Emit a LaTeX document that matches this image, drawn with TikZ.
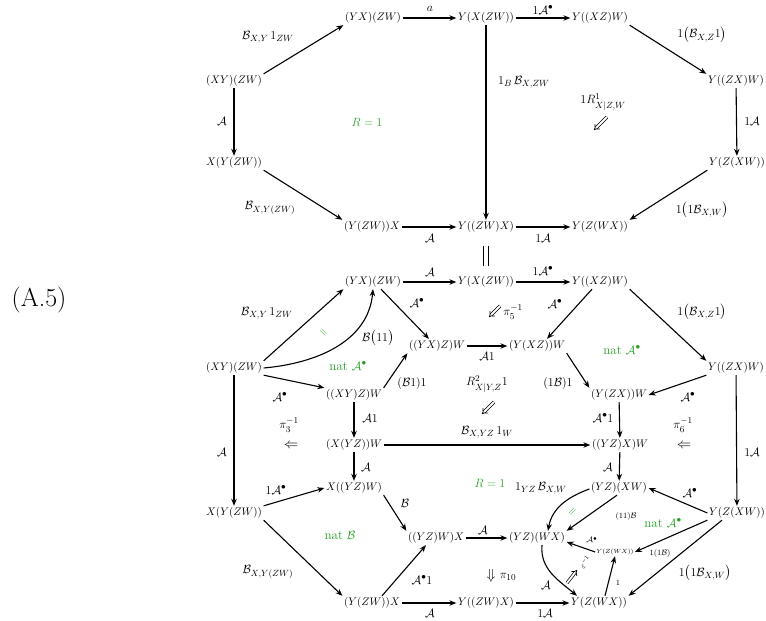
\documentclass[tikz,border=0pt]{standalone}
\usepackage{amsmath,amssymb}
\usetikzlibrary{arrows.meta}
\definecolor{grn}{RGB}{40,160,40}
\newcommand{\cA}{\mathcal{A}}
\newcommand{\cB}{\mathcal{B}}
\begin{document}
\begin{tikzpicture}[x=1pt,y=-1pt,
  obj/.style={font=\fontsize{11}{13}\selectfont, inner sep=1.5pt},
  tobj/.style={font=\fontsize{6}{7}\selectfont, inner sep=1pt},
  lab/.style={font=\fontsize{13}{15}\selectfont, inner sep=0pt},
  slab/.style={font=\fontsize{8.5}{10}\selectfont, inner sep=0pt},
  glab/.style={font=\fontsize{13}{15}\selectfont, text=grn, inner sep=0pt},
  dsym/.style={font=\fontsize{15}{17}\selectfont, inner sep=0pt},
  ar/.style={-{Stealth[length=7pt,width=5.5pt]}, line width=1.1pt},
  tc/.style={double, double distance=1.8pt, line width=0.7pt, -{Implies}},
  eqs/.style={double, double distance=4pt, line width=1.4pt}]
\useasboundingbox (0,0) rectangle (766,621);

\node[font=\fontsize{26}{30}\selectfont] (eqno) at (39,300) {(A.5)};

% ---------- top diagram ----------
\node[obj] (t1) at (373,18) {$(YX)(ZW)$};
\node[obj] (t2) at (486,18) {$Y(X(ZW))$};
\node[obj] (t3) at (600,18) {$Y((XZ)W)$};
\node[obj] (t4) at (234,81) {$(XY)(ZW)$};
\node[obj] (t5) at (736,81) {$Y((ZX)W)$};
\node[obj] (t6) at (234,163) {$X(Y(ZW))$};
\node[obj] (t7) at (737,163) {$Y(Z(XW))$};
\node[obj] (t8) at (372,227) {$(Y(ZW))X$};
\node[obj] (t9) at (486,227) {$Y((ZW)X)$};
\node[obj] (t10) at (600,227) {$Y(Z(WX))$};

\draw[ar] (t4.north east) -- (t1.south west);
\draw[ar] (t1) -- (t2);
\draw[ar] (t2) -- (t3);
\draw[ar] (t3.south east) -- (t5.north west);
\draw[ar] (t4) -- (t6);
\draw[ar] (t2) -- (t9);
\draw[ar] (t5) -- (t7);
\draw[ar] (t6.south east) -- (t8.north west);
\draw[ar] (t8) -- (t9);
\draw[ar] (t9) -- (t10);
\draw[ar] (t7.south west) -- (t10.north east);

\node[lab] (lt1) at (268,37) {$\cB_{X,Y}\,1_{ZW}$};
\node[lab] (lt2) at (430,9) {$a$};
\node[lab] (lt3) at (543,10) {$1\cA^{\bullet}$};
\node[lab] (lt4) at (702,35) {$1\big(\cB_{X,Z}1\big)$};
\node[lab] (lt5) at (222,121) {$\cA$};
\node[lab] (lt6) at (524,82) {$1_B\,\cB_{X,ZW}$};
\node[lab] (lt7) at (752,121) {$1\cA$};
\node[lab] (lt8) at (270,208) {$\cB_{X,Y(ZW)}$};
\node[lab] (lt9) at (430,238) {$\cA$};
\node[lab] (lt10) at (543,238) {$1\cA$};
\node[lab] (lt11) at (702,210) {$1\big(1\cB_{X,W}\big)$};
\node[glab] (gt1) at (367,122) {$R=1$};
\node[lab] (lt12) at (603,102) {$1R^{1}_{X|Z,W}$};
\coordinate (d1a) at (607,117);
\coordinate (d1b) at (594,130);
\draw[tc] (d1a) -- (d1b);

% equality between the two diagrams
\coordinate (eqa) at (486,246);
\coordinate (eqb) at (486,266);
\draw[eqs] (eqa) -- (eqb);

% ---------- bottom diagram ----------
\node[obj] (b1) at (373,282) {$(YX)(ZW)$};
\node[obj] (b2) at (486,282) {$Y(X(ZW))$};
\node[obj] (b3) at (600,282) {$Y((XZ)W)$};
\node[obj] (b4) at (234,368) {$(XY)(ZW)$};
\node[obj] (b5) at (736,368) {$Y((ZX)W)$};
\node[obj] (b6) at (437,346) {$((YX)Z)W$};
\node[obj] (b7) at (537,346) {$(Y(XZ))W$};
\node[obj] (b8) at (354,395) {$((XY)Z)W$};
\node[obj] (b9) at (619,395) {$(Y(ZX))W$};
\node[obj] (b10) at (354,445) {$(X(YZ))W$};
\node[obj] (b11) at (620,445) {$((YZ)X)W$};
\node[obj] (b12) at (354,488) {$X((YZ)W)$};
\node[obj] (b13) at (619,488) {$(YZ)(XW)$};
\node[obj] (b14) at (234,513) {$X(Y(ZW))$};
\node[obj] (b15) at (737,513) {$Y(Z(XW))$};
\node[obj] (b16) at (436,538) {$((YZ)W)X$};
\node[obj] (b17) at (537,538) {$(YZ)(WX)$};
\node[tobj] (b18) at (615,552) {$Y(Z(WX))$};
\node[obj] (b19) at (372,603) {$(Y(ZW))X$};
\node[obj] (b20) at (486,603) {$Y((ZW)X)$};
\node[obj] (b21) at (599,603) {$Y(Z(WX))$};

\draw[ar] (b4.north east) -- (b1.south west);
\draw[ar] (b4.east) to[out=5,in=-95] (b1.south);
\draw[ar] (b4.south east) -- (b8.north west);
\draw[ar] (b8.north east) -- (b6.south west);
\draw[ar] (b4) -- (b14);
\draw[ar] ([xshift=8pt]b1.south) -- ([xshift=-8pt]b6.north);
\draw[ar] (b1) -- (b2);
\draw[ar] (b2) -- (b3);
\draw[ar] ([xshift=-8pt]b3.south) -- ([xshift=10pt]b7.north);
\draw[ar] (b6) -- (b7);
\draw[ar] (b3.south east) -- (b5.north west);
\draw[ar] (b7.south east) -- (b9.north west);
\draw[ar] (b5.south west) -- (b9.east);
\draw[ar] (b5) -- (b15);
\draw[ar] (b8) -- (b10);
\draw[ar] (b10) -- (b12);
\draw[ar] (b9) -- (b11);
\draw[ar] (b11) -- (b13);
\draw[ar] (b10) -- (b11);
\draw[ar] (b14.north east) -- (b12.west);
\draw[ar] (b12.south east) -- (b16.north west);
\draw[ar] (b14.south east) -- (b19.north west);
\draw[ar] ([xshift=10pt]b19.north) -- ([xshift=-10pt]b16.south);
\draw[ar] (b19) -- (b20);
\draw[ar] (b20) -- (b21);
\draw[ar] (b16) -- (b17);
\draw[ar] ([yshift=-1pt]b13.west) to[out=200,in=80] ([xshift=11pt]b17.north);
\draw[ar] ([xshift=-2pt]b13.south) -- (b17.north east);
\draw[ar] (b15.west) -- (b13.east);
\draw[ar] (b15.south west) -- (b18.east);
\draw[ar] ([xshift=-15pt]b15.south) -- (b21.north east);
\draw[ar] (b18.west) -- ([yshift=-4pt]b17.east);
\draw[ar] ([xshift=6pt]b21.north) -- (b18.south);
\draw[ar] ([xshift=5pt]b17.south) to[out=-95,in=140] ([xshift=-22pt]b21.north);

% labels bottom
\node[lab] (lb1) at (267,313) {$\cB_{X,Y}\,1_{ZW}$};
\node[lab] (lb2) at (378,338) {$\cB\big(11\big)$};
\node[glab, rotate=-45, font=\fontsize{11}{13}\selectfont] (gb1) at (323,333) {$=$};
\node[glab] (gb2) at (348,366) {nat $\cA^{\bullet}$};
\node[lab] (lb3) at (280,397) {$\cA^{\bullet}$};
\node[lab] (lb4) at (412,383) {$(\cB1)1$};
\node[lab] (lb5) at (222,452) {$\cA$};
\node[lab] (lb6) at (417,303) {$\cA^{\bullet}$};
\node[lab] (lb7) at (430,272) {$\cA$};
\node[lab] (lb8) at (543,271) {$1\cA^{\bullet}$};
\node[lab] (lb9) at (555,304) {$\cA^{\bullet}$};
\node[lab] (lb10) at (487,356) {$\cA1$};
\node[lab] (lb11) at (702,312) {$1\big(\cB_{X,Z}1\big)$};
\node[glab] (gb3) at (622,350) {nat $\cA^{\bullet}$};
\node[lab] (lb12) at (558,383) {$(1\cB)1$};
\node[lab] (lb13) at (688,397) {$\cA^{\bullet}$};
\node[lab] (lb14) at (752,452) {$1\cA$};
\node[lab] (lb15) at (370,418) {$\cA1$};
\node[lab] (lb16) at (366,467) {$\cA$};
\node[lab] (lb17) at (603,418) {$\cA^{\bullet}1$};
\node[lab] (lb18) at (608,467) {$\cA$};
\node[lab] (lb19) at (487,432) {$\cB_{X,YZ}\,1_W$};
\node[lab] (lb20) at (487,384) {$R^{2}_{X|Y,Z}1$};
\coordinate (d2a) at (494,402);
\coordinate (d2b) at (482,414);
\draw[tc] (d2a) -- (d2b);
\node[lab] (lb21) at (289,425) {$\pi_3^{-1}$};
\node[dsym] (d3) at (291,446) {$\Leftarrow$};
\node[lab] (lb22) at (683,425) {$\pi_6^{-1}$};
\node[dsym] (d4) at (684,446) {$\Leftarrow$};
\node[lab] (lb23) at (513,312) {$\pi_5^{-1}$};
\coordinate (d5a) at (500,306);
\coordinate (d5b) at (489,317);
\draw[tc] (d5a) -- (d5b);
\node[lab] (lb24) at (276,490) {$1\cA^{\bullet}$};
\node[lab] (lb25) at (405,503) {$\cB$};
\node[glab] (gb4) at (340,535) {nat $\cB$};
\node[lab] (lb26) at (268,572) {$\cB_{X,Y(ZW)}$};
\node[lab] (lb27) at (422,580) {$\cA^{\bullet}1$};
\node[lab] (lb28) at (430,613) {$\cA$};
\node[lab] (lb29) at (545,613) {$1\cA$};
\node[lab] (lb30) at (483,530) {$\cA$};
\node[glab] (gb5) at (490,483) {$R=1$};
\node[lab] (lb31) at (541,488) {$1_{YZ}\,\cB_{X,W}$};
\node[slab] (lb32) at (626,516) {$(11)\cB$};
\node[glab, rotate=45, font=\fontsize{11}{13}\selectfont] (gb6) at (573,512) {$=$};
\node[lab] (lb33) at (690,493) {$\cA^{\bullet}$};
\node[glab] (gb7) at (663,523) {nat $\cA^{\bullet}$};
\node[slab] (lb34) at (660,553) {$1(1\cB)$};
\node[lab] (lb35) at (705,573) {$1\big(1\cB_{X,W}\big)$};
\node[slab] (lb36) at (592,540) {$\cA^{\bullet}$};
\node[slab] (lb37) at (618,583) {$1$};
\node[lab] (lb38) at (546,585) {$\cA$};
\coordinate (d6a) at (567,583);
\coordinate (d6b) at (577,570);
\draw[tc] (d6a) -- (d6b);
\node[slab, rotate=55] (lb39) at (585,562) {$\varepsilon^{-1}$};
\node[dsym] (d7) at (491,576) {$\Downarrow$};
\node[lab] (lb40) at (508,577) {$\pi_{10}$};
\end{tikzpicture}
\end{document}
